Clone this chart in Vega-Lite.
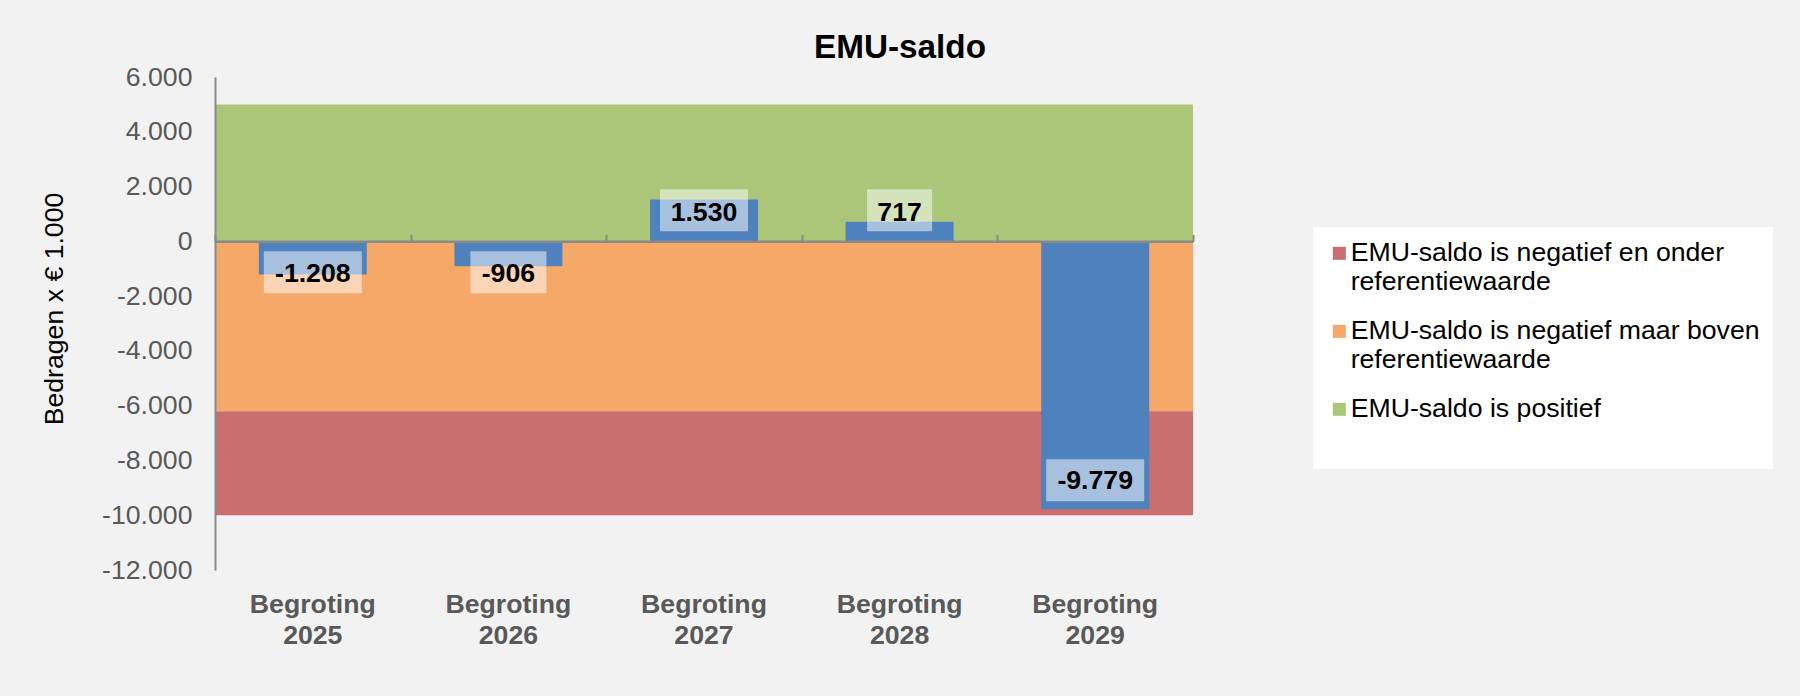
{
  "$schema": "https://vega.github.io/schema/vega-lite/v6.json",
  "width": 978,
  "height": 493,
  "autosize": {"type": "none"},
  "padding": {"left": 215, "top": 77, "right": 607, "bottom": 126},
  "background": "#f2f2f2",
  "title": {
    "text": "EMU-saldo",
    "frame": "group",
    "anchor": "middle",
    "dx": 196,
    "dy": 32,
    "fontSize": 33.3,
    "fontWeight": "bold",
    "font": "Liberation Sans",
    "color": "#000000",
    "baseline": "alphabetic",
    "offset": 5
  },
  "datasets": {
    "bars": [
      {"jaar": "Begroting 2025", "saldo": -1208},
      {"jaar": "Begroting 2026", "saldo": -906},
      {"jaar": "Begroting 2027", "saldo": 1530},
      {"jaar": "Begroting 2028", "saldo": 717},
      {"jaar": "Begroting 2029", "saldo": -9779}
    ],
    "bands": [
      {"categorie": "EMU-saldo is positief", "van": 0, "tot": 5000},
      {"categorie": "EMU-saldo is negatief maar boven referentiewaarde", "van": 0, "tot": -6200},
      {"categorie": "EMU-saldo is negatief en onder referentiewaarde", "van": -6200, "tot": -10000}
    ]
  },
  "resolve": {"axis": {"x": "independent"}},
  "layer": [
    {
      "data": {"name": "bands"},
      "mark": {"type": "rect"},
      "encoding": {
        "x": {"value": 0},
        "x2": {"value": "width"},
        "y": {
          "field": "van",
          "type": "quantitative",
          "title": "Bedragen x € 1.000",
          "scale": {"domain": [-12000, 6000], "nice": false, "zero": false},
          "axis": {
            "values": [-12000, -10000, -8000, -6000, -4000, -2000, 0, 2000, 4000, 6000],
            "format": ",d",
            "grid": false,
            "ticks": false,
            "domainColor": "#898989",
            "domainWidth": 2,
            "labelFont": "Liberation Sans",
            "labelFontSize": 26.67,
            "labelColor": "#595959",
            "labelPadding": 23,
            "titleFont": "Liberation Sans",
            "titleFontSize": 26.67,
            "titleFontWeight": "normal",
            "titleColor": "#000000",
            "titleAngle": -90,
            "titleAlign": "center",
            "titleBaseline": "middle",
            "titleX": -161,
            "titleY": 231.5,
            "zindex": 1
          }
        },
        "y2": {"field": "tot"},
        "color": {
          "field": "categorie",
          "type": "nominal",
          "scale": {
            "domain": [
              "EMU-saldo is negatief en onder referentiewaarde",
              "EMU-saldo is negatief maar boven referentiewaarde",
              "EMU-saldo is positief"
            ],
            "range": ["#c96e6e", "#f5a868", "#abc679"]
          },
          "legend": {
            "title": " ",
            "titleOrient": "bottom",
            "titleFontSize": 14,
            "titlePadding": 19,
            "orient": "none",
            "legendX": 1098,
            "legendY": 150,
            "fillColor": "#ffffff",
            "padding": 13,
            "symbolType": "square",
            "symbolSize": 169,
            "symbolStrokeWidth": 0,
            "labelFont": "Liberation Sans",
            "labelFontSize": 26.67,
            "labelColor": "#000000",
            "labelLimit": 0,
            "labelOffset": -2,
            "labelBaseline": "top",
            "labelLineHeight": 30,
            "rowPadding": 22,
            "labelExpr": "datum.label == 'EMU-saldo is positief' ? datum.label : split(replace(datum.label, ' referentiewaarde', '|referentiewaarde'), '|')",
            "encode": {"labels": {"update": {"dy": {"value": -13}}}}
          }
        }
      }
    },
    {
      "data": {"name": "bars"},
      "mark": {"type": "bar", "color": "#4f81bd", "width": {"band": 0.552}},
      "encoding": {
        "x": {
          "field": "jaar",
          "type": "nominal",
          "sort": null,
          "scale": {"paddingInner": 0, "paddingOuter": 0},
          "axis": {
            "orient": "bottom",
            "title": null,
            "domain": false,
            "ticks": false,
            "labelAngle": 0,
            "labelFont": "Liberation Sans",
            "labelFontSize": 26.67,
            "labelFontWeight": "bold",
            "labelColor": "#595959",
            "labelPadding": 21,
            "labelBaseline": "top",
            "labelLineHeight": 31,
            "labelExpr": "split(datum.label, ' ')"
          }
        },
        "y": {"field": "saldo", "type": "quantitative", "title": "Bedragen x € 1.000"},
        "y2": {"datum": 0}
      }
    },
    {
      "data": {"name": "bars"},
      "transform": [{"filter": "datum.saldo < 0 && datum.saldo > -5000"}],
      "mark": {"type": "point", "filled": true, "color": "#ffffff", "opacity": 0.5, "size": 10000, "strokeWidth": 0, "yOffset": 31},
      "encoding": {
        "x": {
          "field": "jaar",
          "type": "nominal",
          "sort": null,
          "axis": {
            "orient": "top",
            "offset": -164.33,
            "title": null,
            "labels": false,
            "grid": false,
            "domainColor": "#898989",
            "domainWidth": 2.5,
            "tickColor": "#898989",
            "tickWidth": 2,
            "tickSize": 7,
            "tickBand": "extent",
            "zindex": 1
          }
        },
        "y": {"datum": 0, "type": "quantitative"},
        "shape": {
          "field": "jaar",
          "type": "nominal",
          "legend": null,
          "scale": {
            "domain": ["Begroting 2025", "Begroting 2026", "Begroting 2027", "Begroting 2028", "Begroting 2029"],
            "range": [
              "M-0.98,-0.42H0.98V0.42H-0.98Z",
              "M-0.76,-0.42H0.76V0.42H-0.76Z",
              "M-0.88,-0.42H0.88V0.42H-0.88Z",
              "M-0.65,-0.42H0.65V0.42H-0.65Z",
              "M-0.98,-0.42H0.98V0.42H-0.98Z"
            ]
          }
        }
      }
    },
    {
      "data": {"name": "bars"},
      "transform": [{"filter": "datum.saldo > 0"}],
      "mark": {"type": "point", "filled": true, "color": "#ffffff", "opacity": 0.5, "size": 10000, "strokeWidth": 0, "yOffset": -31},
      "encoding": {
        "x": {"field": "jaar", "type": "nominal", "sort": null, "axis": null},
        "y": {"datum": 0, "type": "quantitative"},
        "shape": {"field": "jaar", "type": "nominal", "legend": null}
      }
    },
    {
      "data": {"name": "bars"},
      "transform": [{"filter": "datum.saldo <= -5000"}],
      "mark": {"type": "point", "filled": true, "color": "#ffffff", "opacity": 0.5, "size": 10000, "strokeWidth": 0, "yOffset": -29},
      "encoding": {
        "x": {"field": "jaar", "type": "nominal", "sort": null, "axis": null},
        "y": {"field": "saldo", "type": "quantitative", "title": "Bedragen x € 1.000"},
        "shape": {"field": "jaar", "type": "nominal", "legend": null}
      }
    },
    {
      "data": {"name": "bars"},
      "transform": [{"filter": "datum.saldo < 0 && datum.saldo > -5000"}],
      "mark": {"type": "text", "font": "Liberation Sans", "fontSize": 26.67, "fontWeight": "bold", "color": "#000000", "baseline": "middle", "yOffset": 32.5},
      "encoding": {
        "x": {"field": "jaar", "type": "nominal", "sort": null, "axis": null},
        "y": {"datum": 0, "type": "quantitative"},
        "text": {"field": "saldo", "type": "quantitative", "format": ",d"}
      }
    },
    {
      "data": {"name": "bars"},
      "transform": [{"filter": "datum.saldo > 0"}],
      "mark": {"type": "text", "font": "Liberation Sans", "fontSize": 26.67, "fontWeight": "bold", "color": "#000000", "baseline": "middle", "yOffset": -28.5},
      "encoding": {
        "x": {"field": "jaar", "type": "nominal", "sort": null, "axis": null},
        "y": {"datum": 0, "type": "quantitative"},
        "text": {"field": "saldo", "type": "quantitative", "format": ",d"}
      }
    },
    {
      "data": {"name": "bars"},
      "transform": [{"filter": "datum.saldo <= -5000"}],
      "mark": {"type": "text", "font": "Liberation Sans", "fontSize": 26.67, "fontWeight": "bold", "color": "#000000", "baseline": "middle", "yOffset": -28},
      "encoding": {
        "x": {"field": "jaar", "type": "nominal", "sort": null, "axis": null},
        "y": {"field": "saldo", "type": "quantitative", "title": "Bedragen x € 1.000"},
        "text": {"field": "saldo", "type": "quantitative", "format": ",d"}
      }
    }
  ],
  "config": {
    "font": "Liberation Sans",
    "view": {"stroke": null},
    "locale": {
      "number": {
        "decimal": ",",
        "thousands": ".",
        "grouping": [3],
        "currency": ["€ ", ""],
        "minus": "-"
      }
    }
  }
}
